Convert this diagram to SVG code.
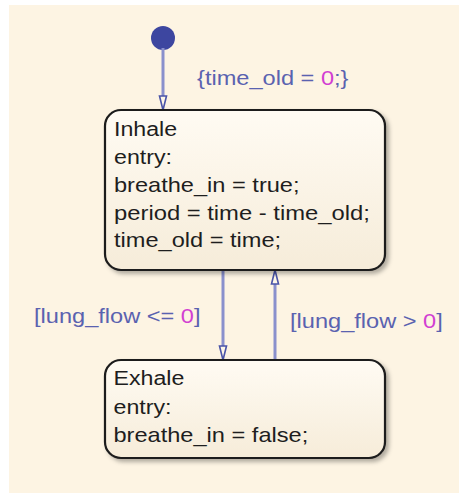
<svg xmlns="http://www.w3.org/2000/svg" width="459" height="493" viewBox="0 0 459 493">
<style>
.st{font-family:"Liberation Sans",Arial,sans-serif;font-size:20px;fill:#1e1e1e}
.lb{font-family:"Liberation Sans",Arial,sans-serif;font-size:20px;fill:#5a62b0}
.num{fill:#d23fd2}
.box{fill:url(#g);stroke:#1a1a1a;stroke-width:2.2}
.ln{stroke:#8a90cc;stroke-width:3;fill:none}
.ah{fill:#fdf6e8;stroke:#4a54a8;stroke-width:1.6}
</style>
<defs>
<linearGradient id="g" x1="0" y1="0" x2="0" y2="1">
<stop offset="0" stop-color="#fffbf3"/>
<stop offset="1" stop-color="#f6ecd9"/>
</linearGradient>
<filter id="sh" x="-10%" y="-10%" width="120%" height="130%">
<feDropShadow dx="3" dy="3" stdDeviation="2" flood-color="#000" flood-opacity="0.3"/>
</filter>
</defs>
<rect x="9" y="5" width="450" height="488" fill="#fdf4e3"/>
<g id="connectors">
<circle cx="163" cy="38" r="12" fill="#3d46a0"/>
<line class="ln" x1="163" y1="48" x2="163" y2="100"/>
<path class="ah" d="M159.5,96 L166.5,96 L163,110 Z"/>
<line class="ln" x1="223" y1="270" x2="223" y2="348"/>
<path class="ah" d="M219.5,346 L226.5,346 L223,360 Z"/>
<line class="ln" x1="275" y1="282" x2="275" y2="360"/>
<path class="ah" d="M271.5,284 L278.5,284 L275,270 Z"/>
<text class="lb" transform="translate(197,85) scale(1.18,1)">{time_old = <tspan class="num">0</tspan>;}</text>
<text class="lb" transform="translate(34,323) scale(1.18,1)">[lung_flow &lt;= <tspan class="num">0</tspan>]</text>
<text class="lb" transform="translate(290,328) scale(1.18,1)">[lung_flow &gt; <tspan class="num">0</tspan>]</text>
</g>
<g id="Inhale">
<rect class="box" x="105" y="110" width="280" height="160" rx="16" filter="url(#sh)"/>
<text class="st" transform="translate(114,135.5) scale(1.16,1)">Inhale</text>
<text class="st" transform="translate(114,163.5) scale(1.16,1)">entry:</text>
<text class="st" transform="translate(114,191.5) scale(1.18,1)">breathe_in = true;</text>
<text class="st" transform="translate(114,220) scale(1.19,1)">period = time - time_old;</text>
<text class="st" transform="translate(114,247) scale(1.18,1)">time_old = time;</text>
</g>
<g id="Exhale">
<rect class="box" x="105" y="360" width="280" height="98" rx="16" filter="url(#sh)"/>
<text class="st" transform="translate(113.5,385) scale(1.16,1)">Exhale</text>
<text class="st" transform="translate(113.5,413.5) scale(1.16,1)">entry:</text>
<text class="st" transform="translate(113.5,441.5) scale(1.18,1)">breathe_in = false;</text>
</g>
</svg>
